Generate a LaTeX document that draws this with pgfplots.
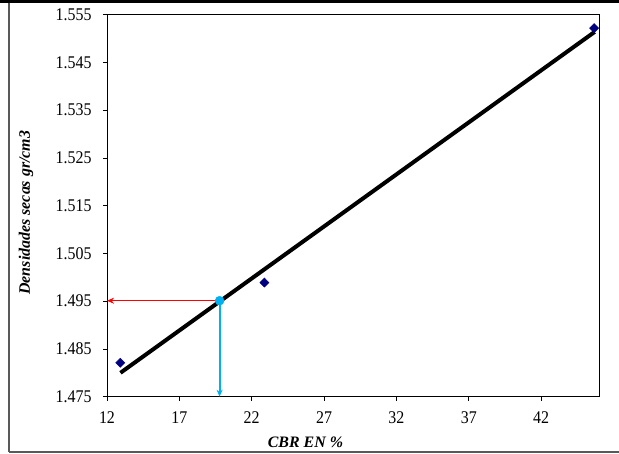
\documentclass[border=0pt]{standalone}
\usepackage{pgfplots}
\pgfplotsset{compat=1.18}
\usepackage{fontspec}
\setmainfont{Liberation Serif}
\usetikzlibrary{arrows.meta}
\definecolor{navy}{RGB}{0,0,128}
\definecolor{skyb}{RGB}{0,176,240}
\begin{document}
\begin{tikzpicture}[x=1bp,y=1bp]
\useasboundingbox (-107,-57.3) rectangle (512,396.7);
\draw[gray!70!black,line width=1.2bp] (-98,-55.3) -- (-98,395) ;
\draw[gray!70!black,line width=1.2bp] (-98,-55.3) -- (515,-55.3);
\draw[black,line width=3bp] (-107,395.2) -- (515,395.2);
\begin{axis}[
  at={(0,0)}, anchor=origin,
  scale only axis, width=492bp, height=382bp,
  xmin=12, xmax=46, ymin=1.475, ymax=1.555,
  xtick={12,17,22,27,32,37,42},
  ytick={1.475,1.485,1.495,1.505,1.515,1.525,1.535,1.545,1.555},
  yticklabels={1.475,1.485,1.495,1.505,1.515,1.525,1.535,1.545,1.555},
  tick align=outside, major tick length=4bp,
  tick style={black, line width=0.6bp},
  xtick pos=bottom, ytick pos=left,
  axis line style={black, line width=0.8bp},
  /pgf/number format/assume math mode=true,
  tick label style={font=\fontsize{16}{18}\selectfont, yscale=1.12},
  xticklabel style={yshift=-6bp},
  yticklabel style={xshift=-8bp},
  xlabel={\textbf{\textit{CBR EN \%}}},
  ylabel={\textbf{\textit{Densidades secas gr/cm3}}},
  label style={font=\fontsize{16}{18}\selectfont},
  xlabel style={at={(axis description cs:0.5,0)}, anchor=center, xshift=-47.5bp, yshift=-45.8bp},
  ylabel style={at={(axis description cs:0,0.5)}, anchor=center, xshift=-7bp, yshift=81bp},
  clip=false,
]
\addplot[black, line width=4bp] coordinates {(12.93,1.4800) (45.70,1.5514)};
\addplot[only marks, mark=diamond*, mark size=4.6bp, mark options={navy, fill=navy, xscale=1.33}] coordinates {(12.92,1.4821) (22.88,1.4989) (45.66,1.5522)};
\addplot[red, line width=1.3bp, -{Stealth[length=7bp,width=6bp]}] coordinates {(19.78,1.4951) (12.0,1.4951)};
\addplot[skyb, line width=2bp, -{Stealth[length=7bp,width=6bp]}] coordinates {(19.78,1.4951) (19.78,1.475)};
\addplot[only marks, mark=*, mark size=4.5bp, mark options={skyb, fill=skyb}] coordinates {(19.78,1.4951)};
\end{axis}
\end{tikzpicture}
\end{document}
